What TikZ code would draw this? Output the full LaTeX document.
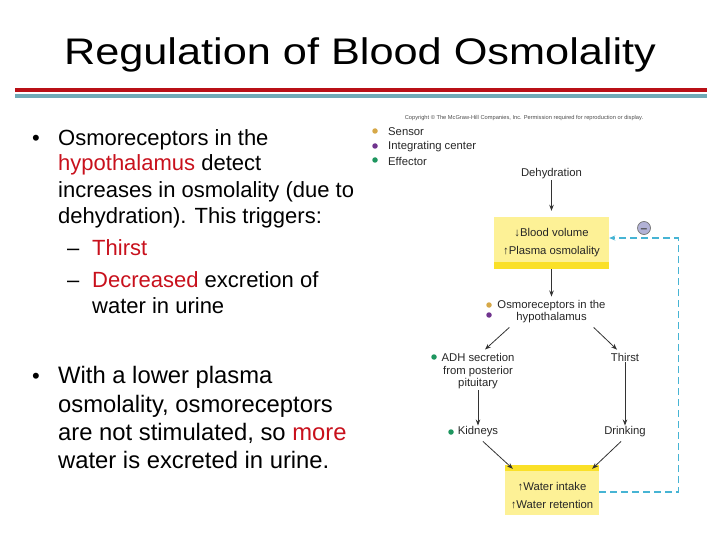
\documentclass[tikz,border=0pt]{standalone}
\usepackage{fontspec}
\setmainfont{Liberation Sans}
\usetikzlibrary{arrows.meta,positioning}

\definecolor{rulered}{RGB}{185,16,22}
\definecolor{ruleteal}{RGB}{112,170,182}
\definecolor{hired}{RGB}{200,16,28}
\definecolor{boxyellow}{RGB}{253,241,150}
\definecolor{stripeyellow}{RGB}{250,224,40}
\definecolor{loopblue}{RGB}{70,180,212}
\definecolor{sensor}{RGB}{214,168,72}
\definecolor{integ}{RGB}{112,52,142}
\definecolor{effector}{RGB}{30,150,95}
\definecolor{minusfill}{RGB}{178,178,214}

\newcommand{\redword}[1]{\textcolor{hired}{#1}}

\tikzset{
  slide/.style={font=\fontsize{22}{24}\selectfont, anchor=base west, inner sep=0pt},
  slidebig/.style={slide, font=\fontsize{23.8}{26}\selectfont},
  lab/.style={font=\fontsize{11.3}{12}\selectfont, text=black!85, inner sep=1pt, align=center},
  dot/.style={circle, inner sep=0pt, minimum size=5.5pt},
  flow/.style={draw=black!80, line width=0.8pt, -{Stealth[length=6pt,width=4.5pt]}},
  feedback/.style={draw=loopblue, line width=1.3pt, dash pattern=on 7pt off 4pt, -{Stealth[length=6pt,width=5pt]}},
  yellowbox/.style={lab, fill=boxyellow, inner sep=0pt}
}

\begin{document}
\begin{tikzpicture}[x=1pt,y=-1pt]
\useasboundingbox (0,0) rectangle (720,540);

\node[anchor=base, inner sep=0pt, font=\fontsize{37}{40}\selectfont] (title) at (360,64.3) {\scalebox{1.17}[1]{Regulation of Blood Osmolality}};
\draw[rulered, line width=4pt] (15,90) -- (707,90);
\draw[ruleteal, line width=4pt] (15,96) -- (707,96);

\node[slide] (b1) at (32,146) {•};
\node[slide] (p1a) at (58,146) {Osmoreceptors in the};
\node[slide] (p1b) at (58,171) {\redword{hypothalamus} detect};
\node[slide] (p1c) at (58,197) {increases in osmolality (due to};
\node[slide] (p1d) at (58,223) {dehydration). This triggers:};
\node[slide] (d1) at (67,255) {–};
\node[slide] (s1a) at (92,255) {\redword{Thirst}};
\node[slide] (d2) at (67,287) {–};
\node[slide] (s2a) at (92,287) {\redword{Decreased} excretion of};
\node[slide] (s2b) at (92,313) {water in urine};
\node[slide] (b2) at (32,383) {•};
\node[slidebig] (p2a) at (58,383) {With a lower plasma};
\node[slidebig] (p2b) at (58,412) {osmolality, osmoreceptors};
\node[slidebig] (p2c) at (58,440) {are not stimulated, so \redword{more}};
\node[slidebig] (p2d) at (58,468) {water is excreted in urine.};

\node[font=\fontsize{5.7}{6}\selectfont, text=black!70, inner sep=0pt] (copy) at (524,118) {Copyright © The McGraw-Hill Companies, Inc. Permission required for reproduction or display.};

\node[dot, fill=sensor] (legs) at (375,131) {};
\node[dot, fill=integ] (legi) at (375,146) {};
\node[dot, fill=effector] (lege) at (375,160) {};
\node[lab, anchor=west] (legst) at (387,132) {Sensor};
\node[lab, anchor=west] (legit) at (387,147) {Integrating center};
\node[lab, anchor=west] (leget) at (387,161) {Effector};

\node[lab] (dehyd) at (551.5,174) {Dehydration};
\node[yellowbox, minimum width=115pt, minimum height=52pt, font=\fontsize{11.3}{18}\selectfont,
  path picture={\fill[stripeyellow] ([yshift=7pt]path picture bounding box.south west) rectangle (path picture bounding box.south east);}]
  (box1) at (551.5,243) {{\bfseries↓}Blood volume\\↑Plasma osmolality};
\node[circle, draw=black!55, line width=0.7pt, fill=minusfill, minimum size=13pt, inner sep=0pt, font=\fontsize{12}{12}\selectfont\bfseries, text=black!70] (minus) at (644,228) {\raisebox{-2.5pt}[\height][0pt]{–}};

\node[lab] (osmo) at (551.5,312) {Osmoreceptors in the\\hypothalamus};
\node[dot, fill=sensor] (osmos) at (489,305) {};
\node[dot, fill=integ] (osmoi) at (489,315) {};

\node[lab, font=\fontsize{11.3}{12.5}\selectfont] (adh) at (478,371.5) {ADH secretion\\from posterior\\pituitary};
\node[dot, fill=effector] (adhe) at (434,357) {};
\node[lab] (thirst) at (625,357) {Thirst};

\node[lab] (kid) at (478,432) {Kidneys};
\node[dot, fill=effector] (kide) at (451,432) {};
\node[lab] (drink) at (625,432) {Drinking};

\node[yellowbox, minimum width=94pt, minimum height=50pt, font=\fontsize{11.3}{18}\selectfont,
  path picture={\fill[stripeyellow] (path picture bounding box.north west) rectangle ([yshift=-6pt]path picture bounding box.north east);}]
  (box2) at (552,490) {\rule{0pt}{19pt}↑Water intake\\{\bfseries↑}Water retention};

\draw[flow, shorten >=6pt] (dehyd) -- (box1);
\draw[flow, shorten >=3pt] (box1) -- (osmo);
\draw[flow] ([xshift=13pt,yshift=-3pt]osmo.south west) -- ([xshift=7pt,yshift=3pt]adh.north);
\draw[flow] ([xshift=-13pt,yshift=-3pt]osmo.south east) -- ([xshift=-8pt,yshift=2pt]thirst.north);
\draw[flow] (adh) -- (kid);
\draw[flow] (thirst) -- (drink);
\draw[flow] ([xshift=5pt,yshift=-3pt]kid.south) -- ([xshift=8pt,yshift=-4pt]box2.north west);
\draw[flow] ([xshift=-4pt,yshift=-3pt]drink.south) -- ([xshift=-7pt,yshift=-4pt]box2.north east);
\draw[feedback] ([yshift=-2pt]box2.east) -- ++(79,0) |- ([yshift=5pt]box1.east);
\end{tikzpicture}
\end{document}
